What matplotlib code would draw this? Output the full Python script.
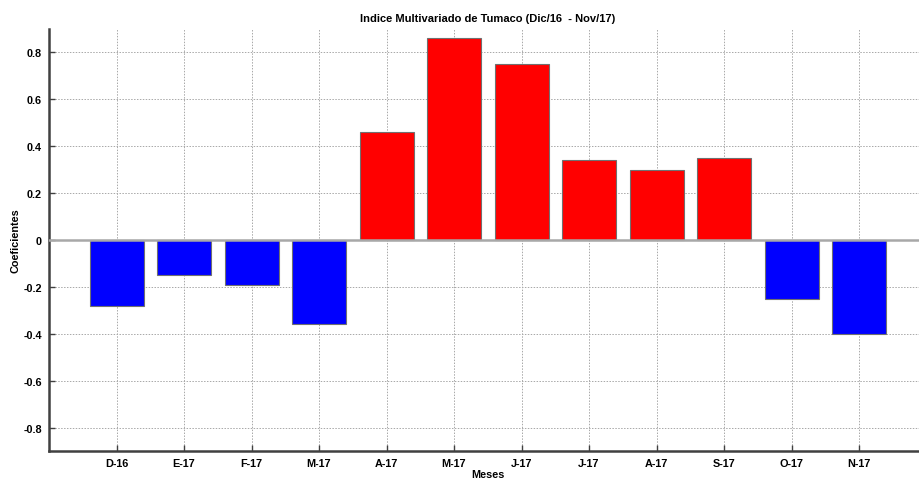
import matplotlib
matplotlib.use("Agg")
import matplotlib.pyplot as plt

months = ["D-16", "E-17", "F-17", "M-17", "A-17", "M-17", "J-17", "J-17", "A-17", "S-17", "O-17", "N-17"]
values = [-0.28, -0.15, -0.19, -0.36, 0.46, 0.86, 0.75, 0.34, 0.30, 0.35, -0.25, -0.40]
yticks = [-0.8, -0.6, -0.4, -0.2, 0, 0.2, 0.4, 0.6, 0.8]
ytick_labels = ["-0.8", "-0.6", "-0.4", "-0.2", "0", "0.2", "0.4", "0.6", "0.8"]

plt.rcParams['font.family'] = ['Liberation Sans', 'DejaVu Sans']

fig = plt.figure(figsize=(9.19, 4.81), dpi=100)
ax = fig.add_axes([49/919, 29/481, 877.5/919, 422/481])

x = list(range(1, len(values) + 1))
colors = ["#ff0000" if v > 0 else "#0000ff" for v in values]
ax.bar(x, values, width=0.8, color=colors, edgecolor="#707070", linewidth=0.8, zorder=3)
ax.axhline(0, color="#a8a8a8", linewidth=1.8, zorder=4)

ax.set_xlim(0, 13)
ax.set_ylim(-0.9, 0.9)
ax.set_xticks(x)
ax.set_xticklabels(months, fontsize=7.8, fontweight="bold")
ax.set_yticks(yticks)
ax.set_yticklabels(ytick_labels, fontsize=7.8, fontweight="bold")
ax.tick_params(direction="in", length=4, width=1, color="#404040", pad=5)
ax.grid(True, linestyle=(0, (1.5, 1.5)), color="#a8a8a8", linewidth=0.7, zorder=0)

for s in ["top", "right"]:
    ax.spines[s].set_visible(False)
for s in ["left", "bottom"]:
    ax.spines[s].set_color("#404040")
    ax.spines[s].set_linewidth(1.8)

ax.set_title("Indice Multivariado de Tumaco (Dic/16  - Nov/17)", fontsize=8, fontweight="bold", pad=6)
ax.set_xlabel("Meses", fontsize=7.8, fontweight="bold", labelpad=1)
ax.set_ylabel("Coeficientes", fontsize=7.8, fontweight="bold", labelpad=2)

fig.savefig("out.png", dpi=100)
